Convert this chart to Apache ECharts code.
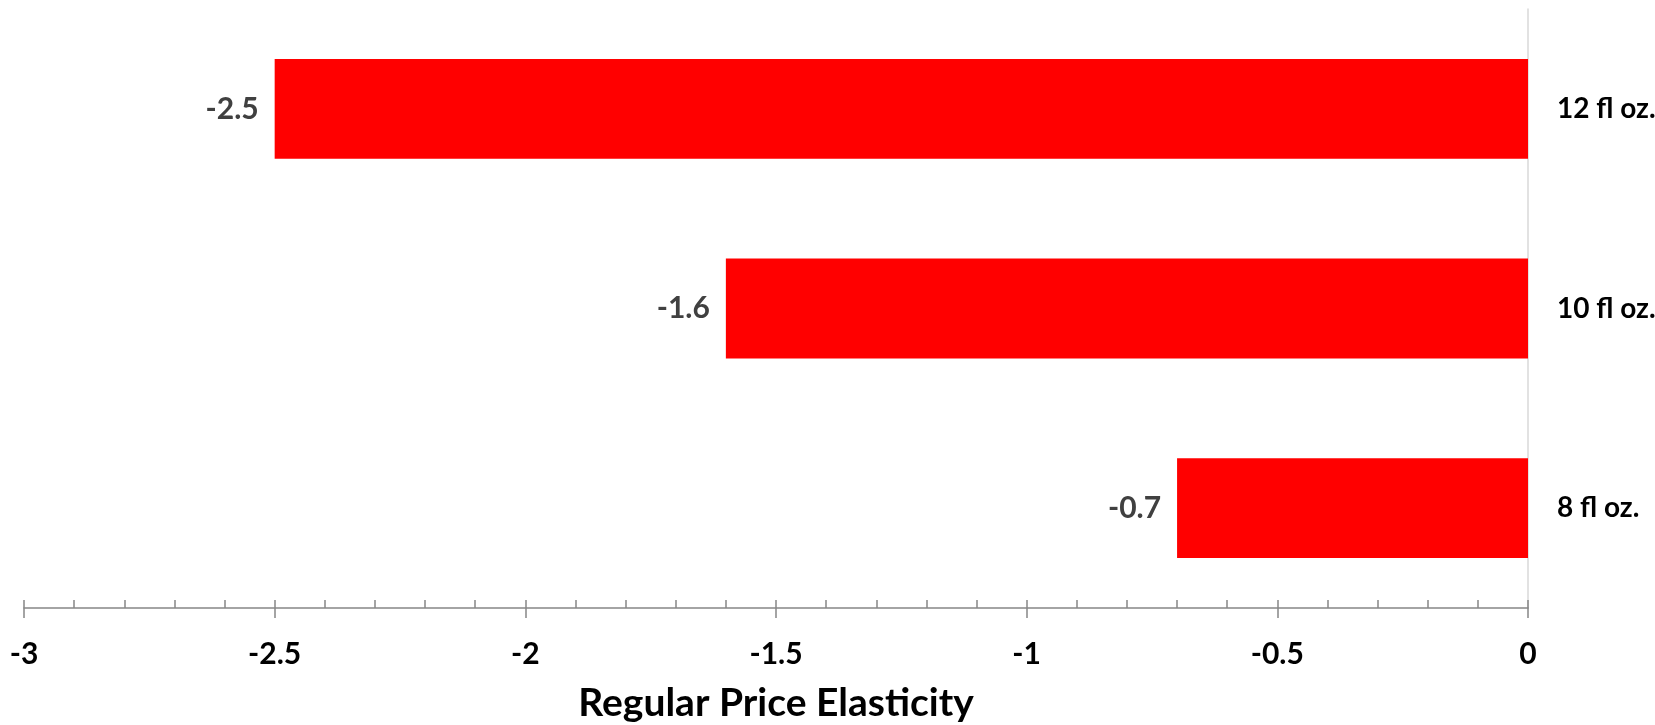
<!DOCTYPE html>
<html>
<head>
<meta charset="utf-8">
<title>Regular Price Elasticity</title>
<script src="https://cdn.jsdelivr.net/npm/echarts@6/dist/echarts.min.js"></script>
<style>
  html, body { margin: 0; padding: 0; background: #ffffff; }
  #chart { width: 1655px; height: 725px; }
</style>
</head>
<body>
<div id="chart"></div>
<script>
// Pack sizes, listed top to bottom
const categories = ['12 fl oz.', '10 fl oz.', '8 fl oz.'];
// Regular price elasticity per pack size
const elasticity = [-2.5, -1.6, -0.7];
// Value axis range and step
const axisMin = -3;
const axisMax = 0;
const axisStep = 0.5;
const axisTitle = 'Regular Price Elasticity';

const FONT = 'Lato, "Open Sans", "DejaVu Sans", sans-serif';

const chart = echarts.init(document.getElementById('chart'), null, { renderer: 'canvas' });

const valueAxisBase = {
  type: 'value',
  min: axisMin,
  max: axisMax,
  interval: axisStep,
  position: 'bottom',
  splitLine: { show: false }
};

chart.setOption({
  animation: false,
  backgroundColor: '#ffffff',
  grid: {
    left: 24, right: 127, top: 9, bottom: 117,
    containLabel: false,
    outerBoundsMode: 'none'
  },
  xAxis: [
    Object.assign({}, valueAxisBase, {
      axisLine: { show: true, lineStyle: { color: '#878787', width: 1.5 } },
      axisTick: { show: true, inside: true, length: 8, lineStyle: { color: '#878787', width: 1.5 } },
      minorTick: { show: true, splitNumber: 5, length: 8, lineStyle: { color: '#878787', width: 1.5 } },
      axisLabel: {
        show: true, margin: 31, color: '#000000',
        fontFamily: FONT, fontWeight: 'bold', fontSize: 30,
        formatter: v => String(Math.round(v * 10) / 10)
      },
      name: axisTitle,
      nameLocation: 'middle',
      nameGap: 76,
      nameTextStyle: { color: '#000000', fontFamily: FONT, fontWeight: 'bold', fontSize: 39 }
    }),
    // Downward half of the major tick marks
    Object.assign({}, valueAxisBase, {
      axisLine: { show: false },
      axisTick: { show: true, inside: false, length: 10, lineStyle: { color: '#878787', width: 1.5 } },
      axisLabel: { show: false }
    })
  ],
  yAxis: {
    type: 'category',
    data: categories,
    inverse: true,
    position: 'right',
    axisLine: { show: true, onZero: false, lineStyle: { color: '#d9d9d9', width: 1.5 } },
    axisTick: { show: false },
    splitLine: { show: false },
    axisLabel: {
      margin: 29, color: '#000000', align: 'left',
      fontFamily: FONT, fontWeight: 'bold', fontSize: 28
    }
  },
  series: [{
    type: 'bar',
    xAxisIndex: 0,
    data: elasticity,
    barWidth: '50%',
    itemStyle: { color: '#ff0000' },
    label: {
      show: true,
      position: 'left',
      distance: 16,
      color: '#404040',
      fontFamily: FONT,
      fontWeight: 'bold',
      fontSize: 30,
      formatter: p => p.value.toFixed(1)
    }
  }]
});
</script>
</body>
</html>
